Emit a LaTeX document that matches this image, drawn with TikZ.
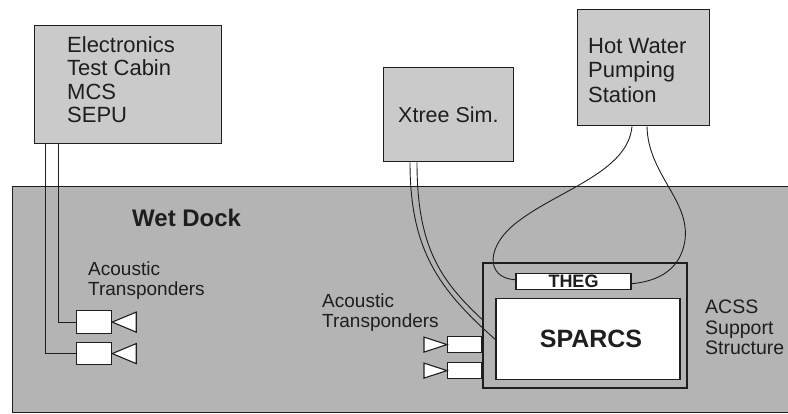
\documentclass[tikz,border=0pt]{standalone}
\usepackage{fontspec}
\setmainfont{Liberation Sans}
\definecolor{boxgray}{RGB}{202,202,202}
\definecolor{dockgray}{RGB}{180,180,180}
\definecolor{ink}{RGB}{30,30,30}
\begin{document}
\begin{tikzpicture}[x=1pt,y=-1pt,
  graybox/.style={draw=ink, line width=1.4pt, fill=boxgray, inner sep=0pt, anchor=north west},
  whitebox/.style={draw=ink, line width=1.5pt, fill=white, inner sep=0pt, anchor=north west},
  tbox/.style={draw=ink, line width=1.2pt, fill=white, inner sep=0pt, anchor=north west},
  tri/.style={draw=ink, line width=1.1pt, fill=white, line join=miter},
  wire/.style={draw=ink, line width=0.9pt},
  lbl/.style={inner sep=0pt, align=left, text=ink, anchor=north west},
  boxtext/.style={lbl, font=\fontsize{22}{23.3}\selectfont}]
\path[use as bounding box] (0,0) rectangle (788,414);
% wet dock
\node[draw=ink, line width=1.4pt, fill=dockgray, minimum width=790pt, minimum height=226pt, anchor=north west, inner sep=0pt] (dock) at (12,186) {};
\node[inner sep=0pt, anchor=base west, text=ink, font=\fontsize{24}{25}\selectfont\bfseries] (wdl) at (132,227) {Wet Dock};
% top boxes
\node[graybox, minimum width=187pt, minimum height=118pt] (elec) at (34,25) {};
\node[boxtext] (elect) at (67,36.5) {Electronics\\Test Cabin\\MCS\\SEPU};
\node[graybox, minimum width=130pt, minimum height=94pt] (xtree) at (383,67) {};
\node[boxtext, font=\fontsize{21.5}{23}\selectfont] (xtreet) at (398,106.5) {Xtree Sim.};
\node[graybox, minimum width=132pt, minimum height=116pt] (hot) at (577,9) {};
\node[boxtext, font=\fontsize{22}{24.5}\selectfont] (hott) at (588,38) {Hot Water\\Pumping\\Station};
% ACSS structure
\node[draw=ink, line width=1.6pt, inner sep=0pt, anchor=north west, minimum width=204pt, minimum height=125pt] (acss) at (482,262) {};
% labels
\node[lbl, font=\fontsize{19}{20}\selectfont] (atl) at (88,261.5) {Acoustic\\Transponders};
\node[lbl, font=\fontsize{19}{20}\selectfont] (atr) at (322,293.5) {Acoustic\\Transponders};
\node[lbl, font=\fontsize{19.5}{20.5}\selectfont] (acsl) at (705,300) {ACSS\\Support\\Structure};
% transponders
\node[tbox, minimum width=35pt, minimum height=23pt] (tl1) at (76,310) {};
\node[tbox, minimum width=35pt, minimum height=22pt] (tl2) at (76,342) {};
\node[tbox, minimum width=34pt, minimum height=16pt] (tr1) at (447,336) {};
\node[tbox, minimum width=34pt, minimum height=16pt] (tr2) at (447,362) {};
\foreach \t in {tl1,tl2}{
  \draw[tri] (\t.east) -- ([xshift=24pt,yshift=10pt]\t.east) -- ([xshift=24pt,yshift=-10pt]\t.east) -- cycle;
}
\foreach \t in {tr1,tr2}{
  \draw[tri] (\t.west) -- ([xshift=-23pt,yshift=7.5pt]\t.west) -- ([xshift=-23pt,yshift=-7.5pt]\t.west) -- cycle;
}
% wires from electronics cabin
\draw[wire] ([xshift=11pt]elec.south west) |- (tl2.west);
\draw[wire] ([xshift=24pt]elec.south west) |- (tl1.west);
% wire ends
\coordinate (xa) at ([xshift=27pt]xtree.south west);
\coordinate (xb) at ([xshift=34pt]xtree.south west);
\coordinate (ha) at ([xshift=55pt]hot.south west);
\coordinate (hb) at ([xshift=70pt]hot.south west);
% SPARCS and THEG
\node[whitebox, minimum width=184pt, minimum height=81pt] (sparcs) at (495,298) {};
\node[inner sep=0pt, text=ink, font=\fontsize{25}{26}\selectfont\bfseries] (sparcst) at (591,339) {SPARCS};
\node[whitebox, minimum width=115pt, minimum height=16pt] (theg) at (515,273) {};
\node[inner sep=0pt, anchor=base, text=ink, font=\fontsize{18}{19}\selectfont\bfseries] (thegt) at (573.5,288) {THEG};
\draw[wire] (xa) .. controls +(0,89) and (440,290) .. (sparcs.west);
\draw[wire] (xb) .. controls +(0,84) and (440,280) .. ([yshift=6pt]acss.west);
% hot water loop
\draw[wire] (ha) .. controls +(-4,45) and (560,190) .. (520,220) .. controls (485,245) and (485,278) .. ([yshift=2pt]theg.west);
\draw[wire] (hb) .. controls +(1,48) and (690,200) .. (685,240) .. controls (680,275) and (650,282) .. ([yshift=-2pt]theg.east);
\end{tikzpicture}
\end{document}
